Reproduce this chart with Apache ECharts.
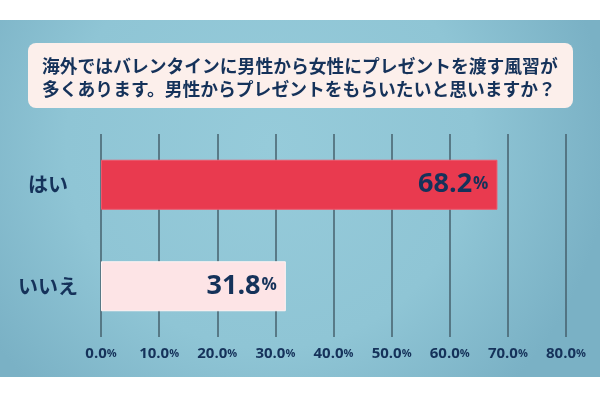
<!DOCTYPE html>
<html>
<head>
<meta charset="utf-8">
<script src="https://cdn.jsdelivr.net/npm/echarts@6/dist/echarts.min.js"></script>
<style>
  html, body { margin: 0; padding: 0; background: #fff; }
</style>
</head>
<body>
<!-- chart container -->
<div id="main" style="width:600px; height:399px"></div>
<script>
// data
var categories = ["はい", "いいえ"];
var values = [68.2, 31.8];
var barColors = ["#e93a4f", "#fde4e6"];
var titleLines = [
  "海外ではバレンタインに男性から女性にプレゼントを渡す風習が",
  "多くあります。男性からプレゼントをもらいたいと思いますか？"
];

var navy = "#15325a";
var numFont = "'Open Sans', 'Noto Sans', sans-serif";
var jpFont = "'Noto Sans CJK JP', sans-serif";

var myChart = echarts.init(document.getElementById("main"));

myChart.setOption({
  animation: false,
  graphic: [
    {
      // blue background panel
      type: "rect",
      z: -10,
      shape: { x: 0, y: 20, width: 600, height: 357 },
      style: {
        fill: {
          type: "radial",
          x: 0.45,
          y: 0.35,
          r: 0.95,
          colorStops: [
            { offset: 0, color: "#96cbda" },
            { offset: 0.6, color: "#8fc5d5" },
            { offset: 1, color: "#7ab1c5" }
          ]
        }
      }
    },
    {
      // title box
      type: "rect",
      z: -5,
      shape: { x: 28, y: 43, width: 545, height: 65, r: 8 },
      style: { fill: "#fcefeb" }
    },
    {
      type: "text",
      left: 42,
      top: 55,
      style: {
        text: titleLines.join("\n"),
        font: "bold 17.8px " + jpFont,
        lineHeight: 22.5,
        fill: navy
      }
    }
  ],
  grid: {
    left: 101,
    right: 34,
    top: 134,
    height: 203
  },
  xAxis: {
    type: "value",
    min: 0,
    max: 80,
    interval: 10,
    axisLine: { show: false },
    axisTick: { show: false },
    splitLine: {
      show: true,
      lineStyle: { color: "#46606c", width: 1.5 }
    },
    axisLabel: {
      margin: 9,
      formatter: function (v) {
        return "{n|" + v.toFixed(1) + "}{p|%}";
      },
      rich: {
        n: { fontFamily: numFont, fontWeight: "bold", fontSize: 15, color: navy },
        p: { fontFamily: numFont, fontWeight: "bold", fontSize: 11, color: navy }
      }
    }
  },
  yAxis: {
    type: "category",
    inverse: true,
    data: categories,
    axisLine: { show: false },
    axisTick: { show: false },
    axisLabel: {
      align: "center",
      margin: 53,
      fontFamily: jpFont,
      fontWeight: "bold",
      fontSize: 20,
      color: navy
    }
  },
  series: [
    {
      type: "bar",
      barWidth: 50,
      data: values.map(function (v, i) {
        return {
          value: v,
          itemStyle: {
            color: barColors[i],
            borderColor: i === 0 ? "#f0566a" : "#fff3f3",
            borderWidth: 1
          }
        };
      }),
      label: {
        show: true,
        position: "insideRight",
        distance: 9,
        formatter: function (p) {
          return "{n|" + p.value.toFixed(1) + "}{p|%}";
        },
        rich: {
          n: { fontFamily: numFont, fontWeight: "bold", fontSize: 27, color: navy },
          p: { fontFamily: numFont, fontWeight: "bold", fontSize: 17, color: navy, padding: [0, 0, 2, 1] }
        }
      }
    }
  ]
});
</script>
</body>
</html>
